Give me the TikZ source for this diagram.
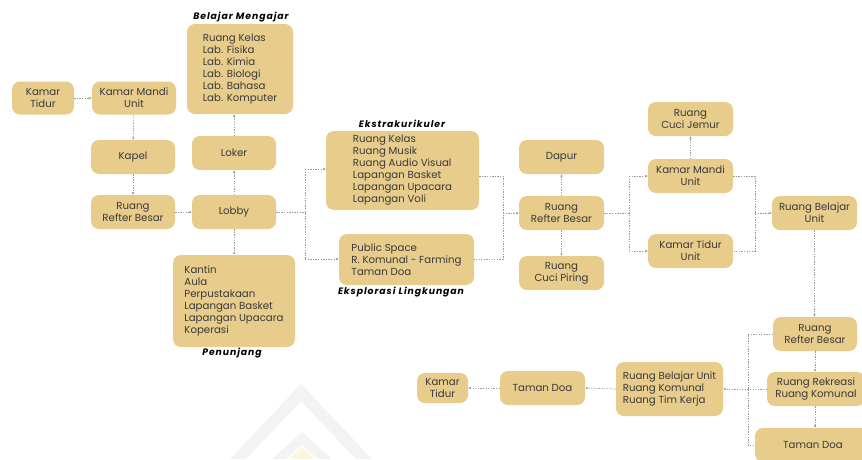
\documentclass[tikz,border=0pt]{standalone}
\usepackage{fontspec}
\setmainfont{Poppins}
\newfontfamily\headfont{Poppins}[LetterSpace=10]
\usetikzlibrary{arrows.meta}
\definecolor{boxfill}{HTML}{E7CC8B}
\definecolor{boxtext}{HTML}{3A3A3A}
\definecolor{linkgray}{HTML}{9A9A9A}
\definecolor{markgray}{HTML}{F3F3F3}
\definecolor{markgold}{HTML}{FCF6E0}
\tikzset{
  room/.style={fill=boxfill, rounded corners=8pt, text=boxtext,
    font=\fontsize{10.2}{12}\selectfont, align=center, inner sep=0pt},
  roomlist/.style={room, align=left},
  sz/.style 2 args={minimum width=#1pt, minimum height=#2pt},
  grouptitle/.style={font=\headfont\fontsize{9.3}{11}\selectfont\bfseries\itshape, text=black, inner sep=0pt},
  link/.style={draw=linkgray, line width=0.7pt, dash pattern=on 1.3pt off 1.3pt},
  linkto/.style={link, -{Latex[length=2.4pt,width=2.4pt]}}
}
\begin{document}
\begin{tikzpicture}[x=1pt, y=-1pt]
\useasboundingbox[fill=white] (0,0) rectangle (862,459);

% faint emblem in the lower middle
\fill[markgray] (301,384) -- (372,459) -- (356,459) -- (301,401) -- (246,459) -- (230,459) -- cycle;
\fill[markgray] (302,432) -- (332,459) -- (318,459) -- (302,445) -- (286,459) -- (272,459) -- cycle;
\fill[markgold] (302,447) -- (315,459) -- (289,459) -- cycle;

% --- left column: dormitory to lobby
\node[room, sz={62}{33}] (kt1) at (43,98) {Kamar\\Tidur};
\node[room, sz={84}{33}] (kmu1) at (134,98) {Kamar Mandi\\Unit};
\node[room, sz={84}{34}] (kapel) at (133,157) {Kapel};
\node[room, sz={84}{34}] (rrb1) at (133,212) {Ruang\\Refter Besar};
\node[room, sz={84}{34}] (lobby) at (234,212) {Lobby};
\node[room, sz={84}{34}] (loker) at (234,153) {Loker};

\node[roomlist, sz={106}{90}] (bm) at (240,69)
  {Ruang Kelas\\Lab. Fisika\\Lab. Kimia\\Lab. Biologi\\Lab. Bahasa\\Lab. Komputer};
\node[grouptitle] (bmt) at (241,17) {Belajar Mengajar};

\node[roomlist, sz={122}{92}] (pen) at (234,301)
  {Kantin\\Aula\\Perpustakaan\\Lapangan Basket\\Lapangan Upacara\\Koperasi};
\node[grouptitle] (pent) at (232,353) {Penunjang};

\node[roomlist, sz={153}{79}] (eks) at (402.5,170.5)
  {Ruang Kelas\\Ruang Musik\\Ruang Audio Visual\\Lapangan Basket\\Lapangan Upacara\\Lapangan Voli};
\node[grouptitle] (ekst) at (402,124) {Ekstrakurikuler};

\node[roomlist, sz={135}{51}] (epl) at (406.5,259.5)
  {Public Space\\R. Komunal - Farming\\Taman Doa};
\node[grouptitle] (eplt) at (401,292) {Eksplorasi Lingkungan};

% --- middle column: dining block
\node[room, sz={85}{34}] (dapur) at (561.5,157) {Dapur};
\node[room, sz={85}{34}] (rrb2) at (561.5,213) {Ruang\\Refter Besar};
\node[room, sz={85}{34}] (rcp) at (561.5,273) {Ruang\\Cuci Piring};

% --- right column: unit rooms
\node[room, sz={85}{34}] (rcj) at (690.5,119) {Ruang\\Cuci Jemur};
\node[room, sz={85}{34}] (kmu2) at (690.5,176) {Kamar Mandi\\Unit};
\node[room, sz={85}{34}] (ktu) at (690.5,251) {Kamar Tidur\\Unit};
\node[room, sz={85}{34}] (rbu) at (814.5,213) {Ruang Belajar\\Unit};

% --- lower row
\node[room, sz={84}{34}] (rrb3) at (815,334) {Ruang\\Refter Besar};
\node[room, sz={98}{34}] (rek) at (816,389) {Ruang Rekreasi\\Ruang Komunal};
\node[room, sz={116}{34}] (td3) at (813,445) {Taman Doa};
\node[roomlist, sz={107}{54}] (rbk) at (669.5,389)
  {Ruang Belajar Unit\\Ruang Komunal\\Ruang Tim Kerja};
\node[room, sz={85}{34}] (td2) at (542.5,388) {Taman Doa};
\node[room, sz={51}{30}] (kt2) at (442.5,388) {Kamar\\Tidur};

% --- connectors, left part
\draw[linkto] (kt1) -- (kmu1);
\draw[linkto] (kmu1) -- (kapel);
\draw[linkto] (kapel) -- (rrb1);
\draw[linkto] (rrb1) -- (lobby);
\draw[linkto] (lobby) -- (loker);
\draw[linkto] (loker.north) -- (loker.north |- bm.south);
\draw[linkto] (lobby.south) -- (lobby.south |- pen.north);

% lobby branches to the two activity groups
\coordinate (ja) at (305,169);
\coordinate (jb) at (305,259);
\draw[link] (lobby.east) -- (lobby.east -| ja);
\draw[link] (ja) -- (jb);
\draw[linkto] (ja) -- (ja -| eks.west);
\draw[linkto] (jb) -- (jb -| epl.west);

% activity groups join towards the dining hall
\coordinate (jc) at (503,176);
\coordinate (jd) at (503,259);
\draw[link] (jc -| eks.east) -- (jc) -- (jd) -- (jd -| epl.east);
\draw[linkto] (jc |- rrb2) -- (rrb2.west);

\draw[linkto] (rrb2) -- (dapur);
\draw[linkto] (rrb2) -- (rcp);

% dining hall to unit rooms
\coordinate (je) at (629,176);
\coordinate (jf) at (629,251);
\draw[link] (rrb2.east) -- (rrb2.east -| je);
\draw[link] (je) -- (jf);
\draw[linkto] (je) -- (kmu2.west);
\draw[linkto] (jf) -- (ktu.west);
\draw[linkto] (kmu2) -- (rcj);

\coordinate (jg) at (755,176);
\coordinate (jh) at (755,251);
\draw[link] (kmu2.east) -- (jg) -- (jh) -- (ktu.east);
\draw[linkto] (jg |- rbu) -- (rbu.west);

% study unit down to the lower row
\draw[linkto] (rbu.south) -- (rbu.south |- rrb3.north);
\draw[linkto] (rrb3.south) -- (rrb3.south |- rek.north);
\draw[linkto] (rrb3.south |- rek.south) -- (rrb3.south |- td3.north);

\coordinate (ji) at (748,334);
\coordinate (jj) at (748,445);
\draw[link] (rrb3.west) -- (ji) -- (jj) -- (td3.west);
\draw[linkto] (rek.west) -- (rbk.east);
\draw[linkto] (rbk.west) -- (td2.east);
\draw[linkto] (td2.west) -- (kt2.east);
\end{tikzpicture}
\end{document}
